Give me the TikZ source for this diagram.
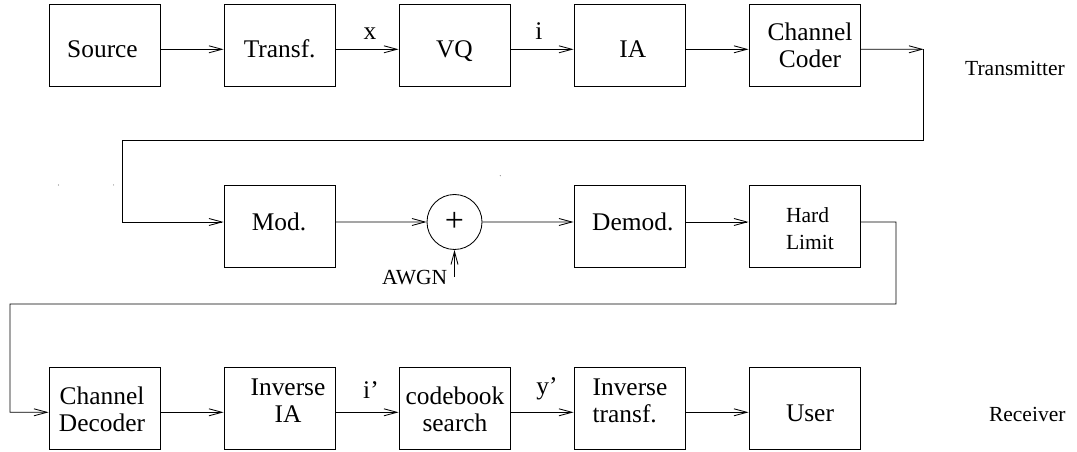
\documentclass[tikz,border=0pt]{standalone}
\usepackage{fontspec}
\setmainfont{Liberation Serif}
\usetikzlibrary{arrows.meta}
\begin{document}
\begin{tikzpicture}[x=1bp,y=-1bp,
  line width=0.85bp,
  box/.style={draw, rectangle, minimum width=111bp, minimum height=82bp, inner sep=0pt},
  big/.style={font=\fontsize{25.5}{27.1}\selectfont, inner sep=0pt, align=center},
  bigl/.style={font=\fontsize{25.5}{27.1}\selectfont, inner sep=0pt, align=left},
  small/.style={font=\fontsize{21.6}{27.1}\selectfont, inner sep=0pt},
  arr/.style={-{Straight Barb[length=13bp,width=7bp]}},
  sumnode/.style={draw, circle, minimum size=55bp, inner sep=0pt, font=\fontsize{34}{36}\selectfont},
]
\useasboundingbox (0,0) rectangle (1077,452);

% boxes
\node[box] (src) at (104.5,45) {};
\node[box] (tr)  at (279.5,45) {};
\node[box] (vq)  at (454.5,45) {};
\node[box] (ia)  at (629.5,45) {};
\node[box] (cc)  at (804.5,45) {};
\node[box] (mod) at (279.5,226.2) {};
\node[sumnode] (sum) at (454.5,222) {+};
\node[box] (dem) at (629.5,226.2) {};
\node[box] (hl)  at (804.5,226.2) {};
\node[box] (cd)  at (104.5,408.3) {};
\node[box] (iia) at (279.5,408.3) {};
\node[box] (cb)  at (454.5,408.3) {};
\node[box] (it)  at (629.5,408.3) {};
\node[box] (usr) at (804.5,408.3) {};

% box texts
\node[big,anchor=base] (tsrc) at (102.5,58) {Source};
\node[big,anchor=base] (ttr)  at (279.7,58) {Transf.};
\node[big,anchor=base] (tvq)  at (454.4,58) {VQ};
\node[big,anchor=base] (tia)  at (632.7,58) {IA};
\node[big] (tcc) at (810,45.3) {Channel\\Coder};
\node[big,anchor=base] (tmod) at (279,231) {Mod.};
\node[big,anchor=base] (tdem) at (632.8,231) {Demod.};
\node[small,align=left] (thl) at (810,228.5) {Hard\\Limit};
\node[big] (tcd)  at (102,409.8) {Channel\\Decoder};
\node[big] (tiia) at (288,400.6) {Inverse\\IA};
\node[big] (tcb)  at (455,409.8) {codebook\\search};
\node[bigl] (tit) at (630,400.5) {Inverse\\transf.};
\node[big,anchor=base] (tusr) at (810,421.7) {User};

% labels
\node[big,anchor=base] (lx)  at (370,39.3) {x};
\node[big,anchor=base] (li)  at (539,39.3) {i};
\node[big,anchor=base] (lip) at (371,399) {i’};
\node[big,anchor=base] (lyp) at (547,395) {y’};
\node[small,anchor=base west] (ltx) at (964.7,76) {Transmitter};
\node[small,anchor=base west] (lrx) at (988.6,421.7) {Receiver};
\node[small,anchor=base east] (lawgn) at (447.7,285) {AWGN};

% row 1
\draw[arr] ([yshift=-4.3bp]src.east) -- ([yshift=-4.3bp]tr.west);
\draw[arr] ([yshift=-4.3bp]tr.east) -- ([yshift=-4.3bp]vq.west);
\draw[arr] ([yshift=-4.3bp]vq.east) -- ([yshift=-4.3bp]ia.west);
\draw[arr] ([yshift=-4.3bp]ia.east) -- ([yshift=-4.3bp]cc.west);
\coordinate (c1) at (923.6,49.3);
\coordinate (c2) at (923.6,140);
\coordinate (c3) at (122.2,140);
\draw[arr] ([yshift=-4.3bp]cc.east) -- (c1);
\draw[arr] (c1) -- (c2) -- (c3) |- ([yshift=4.2bp]mod.west);

% row 2
\draw[arr] ([yshift=4.2bp]mod.east) -- (sum.west);
\draw[arr] (sum.east) -- ([yshift=4.2bp]dem.west);
\draw[arr] ([yshift=4.2bp]dem.east) -- ([yshift=4.2bp]hl.west);
\coordinate (awgn) at (454.5,276.7);
\draw[arr] (awgn) -- (sum.south);
\coordinate (d1) at (896,222);
\coordinate (d2) at (896,304);
\coordinate (d3) at (10,304);
\draw[arr] ([yshift=4.2bp]hl.east) -- (d1) -- (d2) -- (d3) |- ([yshift=-4bp]cd.west);

% row 3
\draw[arr] ([yshift=-4bp]cd.east) -- ([yshift=-4bp]iia.west);
\draw[arr] ([yshift=-4bp]iia.east) -- ([yshift=-4bp]cb.west);
\draw[arr] ([yshift=-4bp]cb.east) -- ([yshift=-4bp]it.west);
\draw[arr] ([yshift=-4bp]it.east) -- ([yshift=-4bp]usr.west);

% stray specks
\fill[gray] (58.5,185) circle (0.6bp);
\fill[gray] (113.6,185) circle (0.6bp);
\fill[gray] (500.3,175.7) circle (0.6bp);
\end{tikzpicture}
\end{document}
